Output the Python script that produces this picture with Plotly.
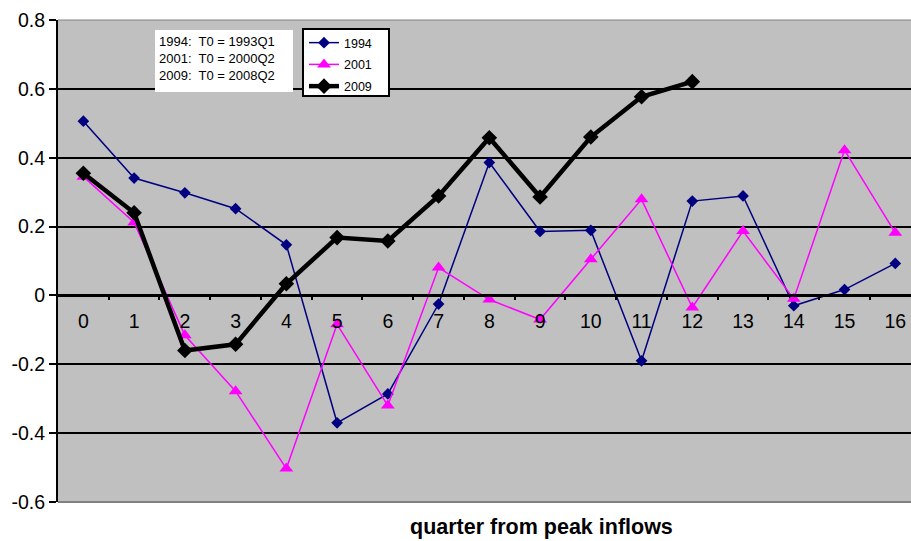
import plotly.graph_objects as go

quarters = list(range(17))
s1994 = [0.506, 0.341, 0.298, 0.252, 0.147, -0.370, -0.286, -0.025, 0.386, 0.186,
         0.189, -0.190, 0.274, 0.289, -0.030, 0.017, 0.093]
s2001 = [0.345, 0.212, -0.116, -0.278, -0.503, -0.084, -0.320, 0.081, -0.012, -0.070,
         0.105, 0.279, -0.035, 0.187, -0.010, 0.422, 0.182]
q2009 = list(range(13))
s2009 = [0.355, 0.240, -0.160, -0.142, 0.034, 0.168, 0.158, 0.289, 0.458, 0.286,
         0.460, 0.577, 0.621]
y_ticks = [-0.6, -0.4, -0.2, 0, 0.2, 0.4, 0.6, 0.8]
y_ticktext = ["-0.6", "-0.4", "-0.2", "0", "0.2", "0.4", "0.6", "0.8"]
note_lines = ["1994:  T0 = 1993Q1", "2001:  T0 = 2000Q2", "2009:  T0 = 2008Q2"]

FONT = "Arial, Liberation Sans, sans-serif"

# pixel -> paper helpers for the 853x482 plot area starting at (58, 20)
def px(x):
    return (x - 58) / 853


def py(y):
    return (502 - y) / 482


fig = go.Figure()
fig.add_trace(go.Scatter(
    x=quarters, y=s1994, name="1994", mode="lines+markers", legendgroup="a",
    line=dict(color="#000080", width=1.5),
    marker=dict(symbol="diamond", size=9, color="#000080"),
))
fig.add_trace(go.Scatter(
    x=quarters, y=s2001, name="2001", mode="lines+markers", legendgroup="b",
    line=dict(color="#FF00FF", width=1.5),
    marker=dict(symbol="triangle-up", size=12, color="#FF00FF"),
))
fig.add_trace(go.Scatter(
    x=q2009, y=s2009, name="2009", mode="lines+markers", legendgroup="c",
    line=dict(color="#000000", width=4.5),
    marker=dict(symbol="diamond", size=12, color="#000000"),
))

ymin, ymax = -0.6, 0.8
fig.update_layout(
    width=911, height=541,
    margin=dict(l=58, r=0, t=20, b=39),
    paper_bgcolor="white",
    plot_bgcolor="#C0C0C0",
    font=dict(family=FONT, size=19, color="black"),
    showlegend=True,
    legend=dict(
        x=px(304), y=py(28), xanchor="left", yanchor="top",
        bgcolor="rgba(0,0,0,0)", borderwidth=0,
        font=dict(family=FONT, size=12.5, color="black"),
        tracegroupgap=2.5, itemwidth=30,
    ),
    xaxis=dict(
        range=[-0.5, 16.31],
        tickmode="array", tickvals=quarters,
        ticktext=[str(q) for q in quarters],
        showgrid=False, zeroline=False,
        anchor="free", position=(0 - ymin) / (ymax - ymin),
        showline=True, linecolor="black", linewidth=3,
        ticks="", tickfont=dict(size=19.5, family=FONT),
        ticklabelstandoff=7,
        minor=dict(tickvals=[q + 0.5 for q in quarters], ticks="outside",
                   ticklen=3, tickcolor="black", tickwidth=2),
    ),
    yaxis=dict(
        range=[ymin, ymax],
        tickmode="array", tickvals=y_ticks, ticktext=y_ticktext,
        showgrid=True, gridcolor="black", gridwidth=2,
        zeroline=False,
        showline=True, linecolor="black", linewidth=2,
        ticks="outside", ticklen=7, tickwidth=2, tickcolor="black",
        tickfont=dict(size=19.5, family=FONT),
    ),
)

# plot-area border (grey) at top and bottom
fig.add_shape(type="line", xref="paper", yref="paper", x0=0, x1=1, y0=0, y1=0,
              line=dict(color="#808080", width=2), layer="above")
fig.add_shape(type="line", xref="paper", yref="paper", x0=0, x1=1, y0=1, y1=1,
              line=dict(color="#808080", width=1), layer="below")

# legend frame
fig.add_shape(type="rect", xref="paper", yref="paper",
              x0=px(303), x1=px(389), y0=py(96), y1=py(29),
              fillcolor="white", line=dict(color="black", width=2), layer="above")

# note box with the base quarters
fig.add_shape(type="rect", xref="paper", yref="paper",
              x0=px(155), x1=px(293), y0=py(92), y1=py(30),
              fillcolor="white", line=dict(width=0), layer="above")
fig.add_annotation(
    xref="paper", yref="paper", x=px(157), y=py(32),
    xanchor="left", yanchor="top", align="left", showarrow=False,
    text="<br>".join(note_lines),
    font=dict(family=FONT, size=13, color="black"),
)

fig.add_annotation(
    xref="paper", yref="paper", x=px(541), y=py(527),
    xanchor="center", yanchor="middle", showarrow=False,
    text="<b>quarter from peak inflows</b>",
    font=dict(family=FONT, size=21.5, color="black"),
)

fig.write_html("out.html")
